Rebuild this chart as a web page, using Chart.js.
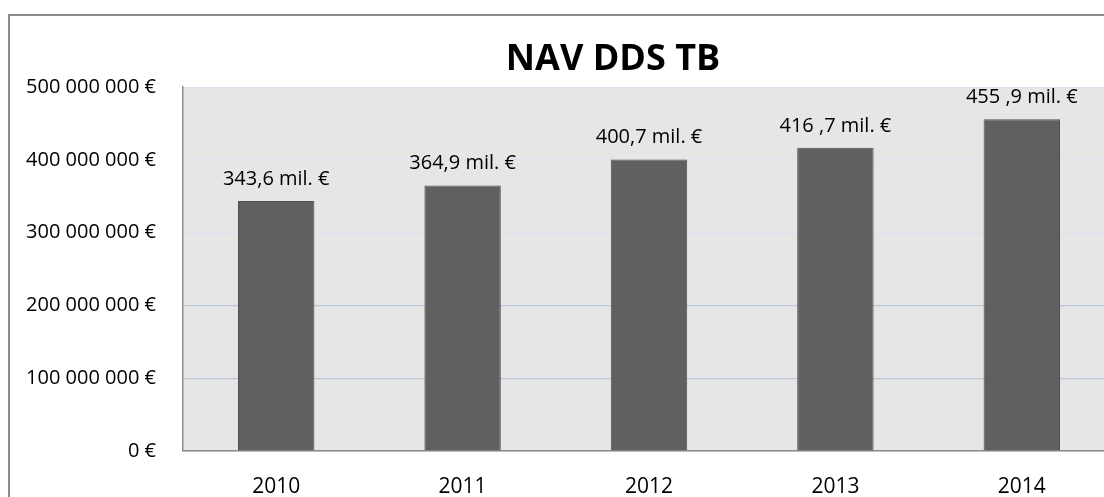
<!DOCTYPE html>
<html>
<head>
<meta charset="utf-8">
<script src="https://cdn.jsdelivr.net/npm/chart.js@4/dist/chart.umd.min.js"></script>
<style>
  html, body { margin: 0; padding: 0; background: #fff; overflow: hidden; }
  #frame {
    position: absolute; left: 8px; top: 14px;
    width: 1210px; height: 490px;
    border-left: 2px solid #8c8c8c; border-top: 2px solid #8c8c8c;
  }
  #wrap { position: relative; width: 1206px; height: 481px; }
</style>
</head>
<body>
<div id="frame"><div id="wrap"><canvas id="navChart"></canvas></div></div>
<script>
const years = ['2010', '2011', '2012', '2013', '2014'];
const navValues = [343.6e6, 364.9e6, 400.7e6, 416.7e6, 455.9e6];
const valueLabels = ['343,6 mil. €', '364,9 mil. €', '400,7 mil. €', '416 ,7 mil. €', '455 ,9 mil. €'];
const yTicks = [0, 100e6, 200e6, 300e6, 400e6, 500e6];

const FONT = "'Open Sans', 'Liberation Sans', sans-serif";

function fmtEuro(v) {
  return String(Math.round(v)).replace(/\B(?=(\d{3})+(?!\d))/g, ' ') + ' €';
}

const plotBg = {
  id: 'plotBg',
  beforeDraw(chart) {
    const { ctx, chartArea: a } = chart;
    ctx.save();
    ctx.fillStyle = '#e6e6e6';
    ctx.fillRect(a.left, a.top, a.right - a.left, a.bottom - a.top);
    ctx.restore();
  }
};

const barLabels = {
  id: 'barLabels',
  afterDatasetsDraw(chart) {
    const { ctx } = chart;
    const meta = chart.getDatasetMeta(0);
    ctx.save();
    ctx.font = '20px ' + FONT;
    ctx.fillStyle = '#000';
    ctx.textAlign = 'center';
    ctx.textBaseline = 'middle';
    meta.data.forEach((bar, i) => {
      ctx.fillText(valueLabels[i], bar.x, bar.y - 22);
    });
    ctx.restore();
  }
};

new Chart(document.getElementById('navChart'), {
  type: 'bar',
  data: {
    labels: years,
    datasets: [{
      data: navValues,
      backgroundColor: '#606060',
      borderColor: '#505050',
      borderWidth: 1,
      categoryPercentage: 1,
      barPercentage: 0.41,
    }]
  },
  options: {
    responsive: true, maintainAspectRatio: false, animation: false,
    layout: { padding: 0 },
    plugins: {
      legend: { display: false },
      tooltip: { enabled: false },
      title: {
        display: true, text: 'NAV DDS TB', color: '#000',
        font: { family: FONT, size: 36, weight: 'bold' },
        padding: { top: 22, bottom: 6 }
      }
    },
    scales: {
      x: {
        grid: { display: false, drawTicks: false },
        border: { display: true, color: '#8c8c8c', width: 1.5 },
        ticks: { color: '#000', padding: 23, font: { family: FONT, size: 21 } },
        afterFit: s => { s.height = 46; }
      },
      y: {
        min: 0, max: 500e6,
        afterBuildTicks: s => { s.ticks = yTicks.map(v => ({ value: v })); },
        grid: {
          drawTicks: false,
          color: c => (c.tick && c.tick.value <= 200e6) ? '#bcc6da' : '#dce2ee',
          lineWidth: 1.2
        },
        border: { display: true, color: '#8c8c8c', width: 1.5 },
        ticks: {
          color: '#000', padding: 27,
          font: { family: FONT, size: 20 },
          callback: v => fmtEuro(v)
        },
        afterFit: s => { s.width = 173; }
      },
      // empty right-hand space of the chart (cut off in the reference)
      spacer: {
        type: 'linear', position: 'right',
        grid: { display: false }, border: { display: false },
        ticks: { display: false },
        afterFit: s => { s.width = 101; }
      }
    }
  },
  plugins: [plotBg, barLabels]
});
</script>
</body>
</html>
